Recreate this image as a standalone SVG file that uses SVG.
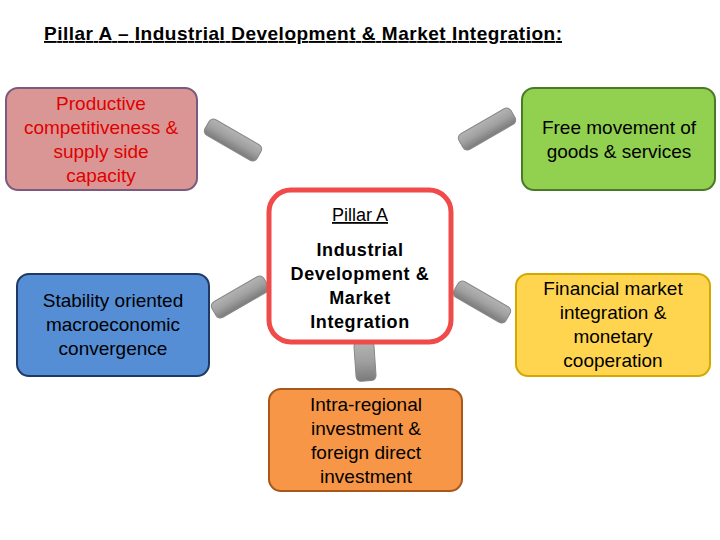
<svg xmlns="http://www.w3.org/2000/svg" width="720" height="540" viewBox="0 0 720 540">
<defs>
<linearGradient id="bar" x1="0" y1="0" x2="0" y2="1"><stop offset="0" stop-color="#b4b4b4"/><stop offset="0.5" stop-color="#a0a0a0"/><stop offset="1" stop-color="#7a7a7a"/></linearGradient>
</defs>
<style>
text{font-family:"Liberation Sans",Arial,sans-serif;font-size:19px;fill:#000;text-anchor:middle}
.c{font-weight:bold;font-size:18px;letter-spacing:0.6px}
.r{fill:#e00000}
.n{stroke-width:2}
.b{fill:url(#bar);stroke:#888;stroke-width:1}
</style>
<rect width="720" height="540" fill="#fff"/>
<text x="44" y="40" textLength="518" style="text-anchor:start;font-size:19px;text-decoration:underline;font-weight:bold">Pillar A – Industrial Development &amp; Market Integration:</text>
<g id="connectors">
<rect class="b" x="-30" y="-9" width="60" height="18" rx="5" transform="translate(233,140) rotate(30)"/>
<rect class="b" x="-30" y="-9" width="60" height="18" rx="5" transform="translate(487,129) rotate(-30)"/>
<rect class="b" x="-30" y="-9" width="60" height="18" rx="5" transform="translate(240,297) rotate(-30)"/>
<rect class="b" x="-30" y="-9" width="60" height="18" rx="5" transform="translate(482,302) rotate(30)"/>
<rect class="b" x="-10" y="-20" width="20" height="40" rx="5" transform="translate(365,361) rotate(-4)"/>
</g>
<g id="center">
<rect x="269" y="190" width="182" height="152" rx="22" fill="#fff" stroke="#f04b4b" stroke-width="5"/>
<text x="360" y="221" style="text-decoration:underline;font-size:18px">Pillar A</text>
<text class="c" x="360" y="256">Industrial</text>
<text class="c" x="360" y="280">Development &amp;</text>
<text class="c" x="360" y="304">Market</text>
<text class="c" x="360" y="328">Integration</text>
</g>
<g id="productive">
<rect class="n" x="6" y="88" width="191" height="102" rx="12" fill="#d99694" stroke="#7a5a7e"/>
<text class="r" x="101" y="110">Productive</text>
<text class="r" x="101" y="134">competitiveness  &amp;</text>
<text class="r" x="101" y="158">supply side</text>
<text class="r" x="101" y="182">capacity</text>
</g>
<g id="free">
<rect class="n" x="522" y="88" width="193" height="102" rx="12" fill="#92d050" stroke="#4a7a25"/>
<text x="619" y="134">Free movement of</text>
<text x="619" y="158">goods &amp; services</text>
</g>
<g id="stability">
<rect class="n" x="17" y="274" width="192" height="102" rx="12" fill="#558ed5" stroke="#1f3864"/>
<text x="113" y="307">Stability oriented</text>
<text x="113" y="331">macroeconomic</text>
<text x="113" y="355">convergence</text>
</g>
<g id="financial">
<rect class="n" x="516" y="274" width="194" height="102" rx="12" fill="#ffd54f" stroke="#d4a800"/>
<text x="613" y="295">Financial market</text>
<text x="613" y="319">integration &amp;</text>
<text x="613" y="343">monetary</text>
<text x="613" y="367">cooperation</text>
</g>
<g id="intra">
<rect class="n" x="269" y="389" width="193" height="102" rx="12" fill="#f79646" stroke="#a8581a"/>
<text x="366" y="411">Intra-regional</text>
<text x="366" y="435">investment  &amp;</text>
<text x="366" y="459">foreign direct</text>
<text x="366" y="483">investment</text>
</g>
</svg>
